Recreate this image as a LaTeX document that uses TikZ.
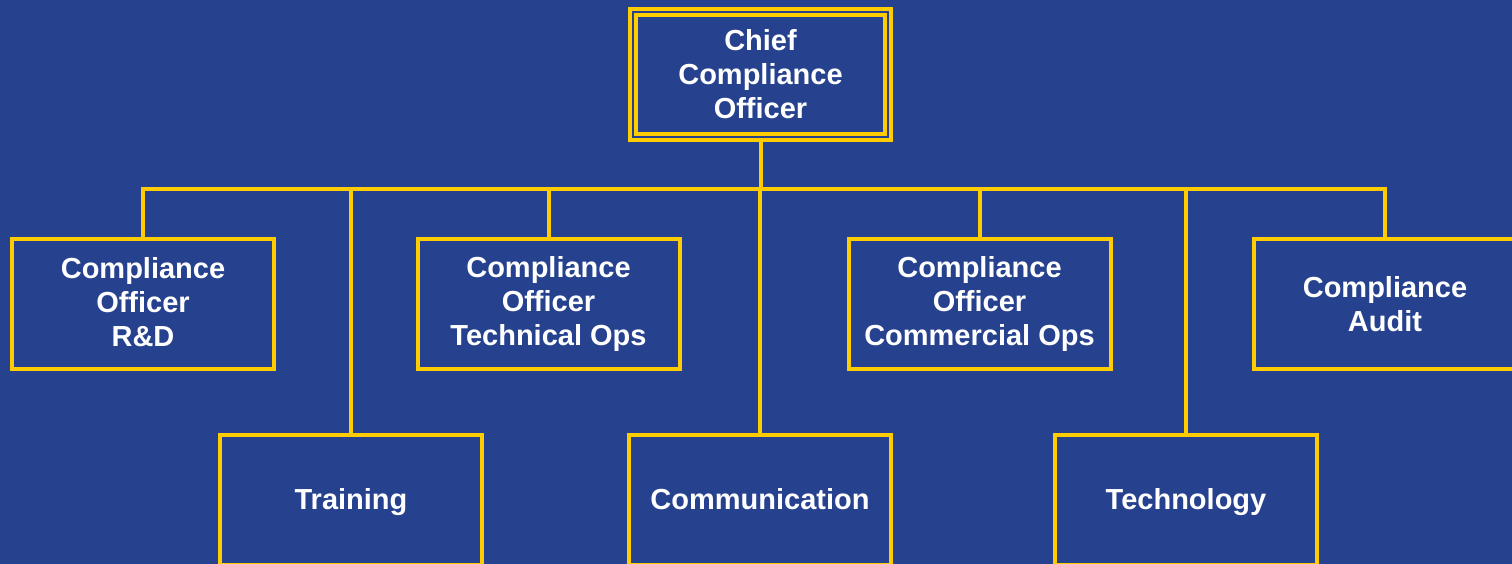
\documentclass[tikz,border=0pt]{standalone}
\usepackage{fontspec}
\setmainfont{Liberation Sans}
\definecolor{navy}{HTML}{26418E}
\definecolor{gold}{HTML}{FFCC00}
\begin{document}
\begin{tikzpicture}[x=1pt,y=-1pt,
  unit/.style={draw=gold, line width=4pt, rectangle, minimum width=262pt,
    minimum height=130pt, inner sep=0pt, outer sep=2pt, text=white,
    align=center, font=\bfseries\fontsize{29}{34}\selectfont},
  oneline/.style={text height=21pt, text depth=3pt},
  link/.style={draw=gold, line width=4pt}]
  % canvas
  \useasboundingbox (0,0) rectangle (1512,564);
  \fill[navy] (0,0) rectangle (1512,564);
  \clip (0,0) rectangle (1512,564);

  % head of the organisation
  \node[unit, double=navy, double distance=2pt, minimum width=255pt,
        minimum height=125pt, outer sep=5pt] (ceo) at (760.5,74.5)
        {Chief\\Compliance\\Officer};

  % first row
  \node[unit] (rd)    at (143,304)   {Compliance\\Officer\\R\&D\rule[-4pt]{0pt}{4pt}};
  \node[unit] (tech)  at (548.5,304) {Compliance\\Officer\\Technical Ops};
  \node[unit] (comm)  at (979.5,304) {Compliance\\Officer\\Commercial Ops};
  \node[unit] (audit) at (1385,304)  {Compliance\\Audit};

  % second row
  \node[unit, oneline] (train)  at (351,500)  {Training};
  \node[unit, oneline] (commun) at (760,500)  {Communication};
  \node[unit, oneline] (techn)  at (1186,500) {Technology};

  % distribution bus
  \coordinate (bus) at (760,189);
  \draw[link] (ceo.south) -- (ceo.south |- bus);
  \draw[link] (rd.north) |- (audit.north |- bus) -- (audit.north);
  \draw[link] (tech.north)   -- (tech.north |- bus);
  \draw[link] (comm.north)   -- (comm.north |- bus);
  \draw[link] (train.north)  -- (train.north |- bus);
  \draw[link] (commun.north) -- (commun.north |- bus);
  \draw[link] (techn.north)  -- (techn.north |- bus);
\end{tikzpicture}
\end{document}
